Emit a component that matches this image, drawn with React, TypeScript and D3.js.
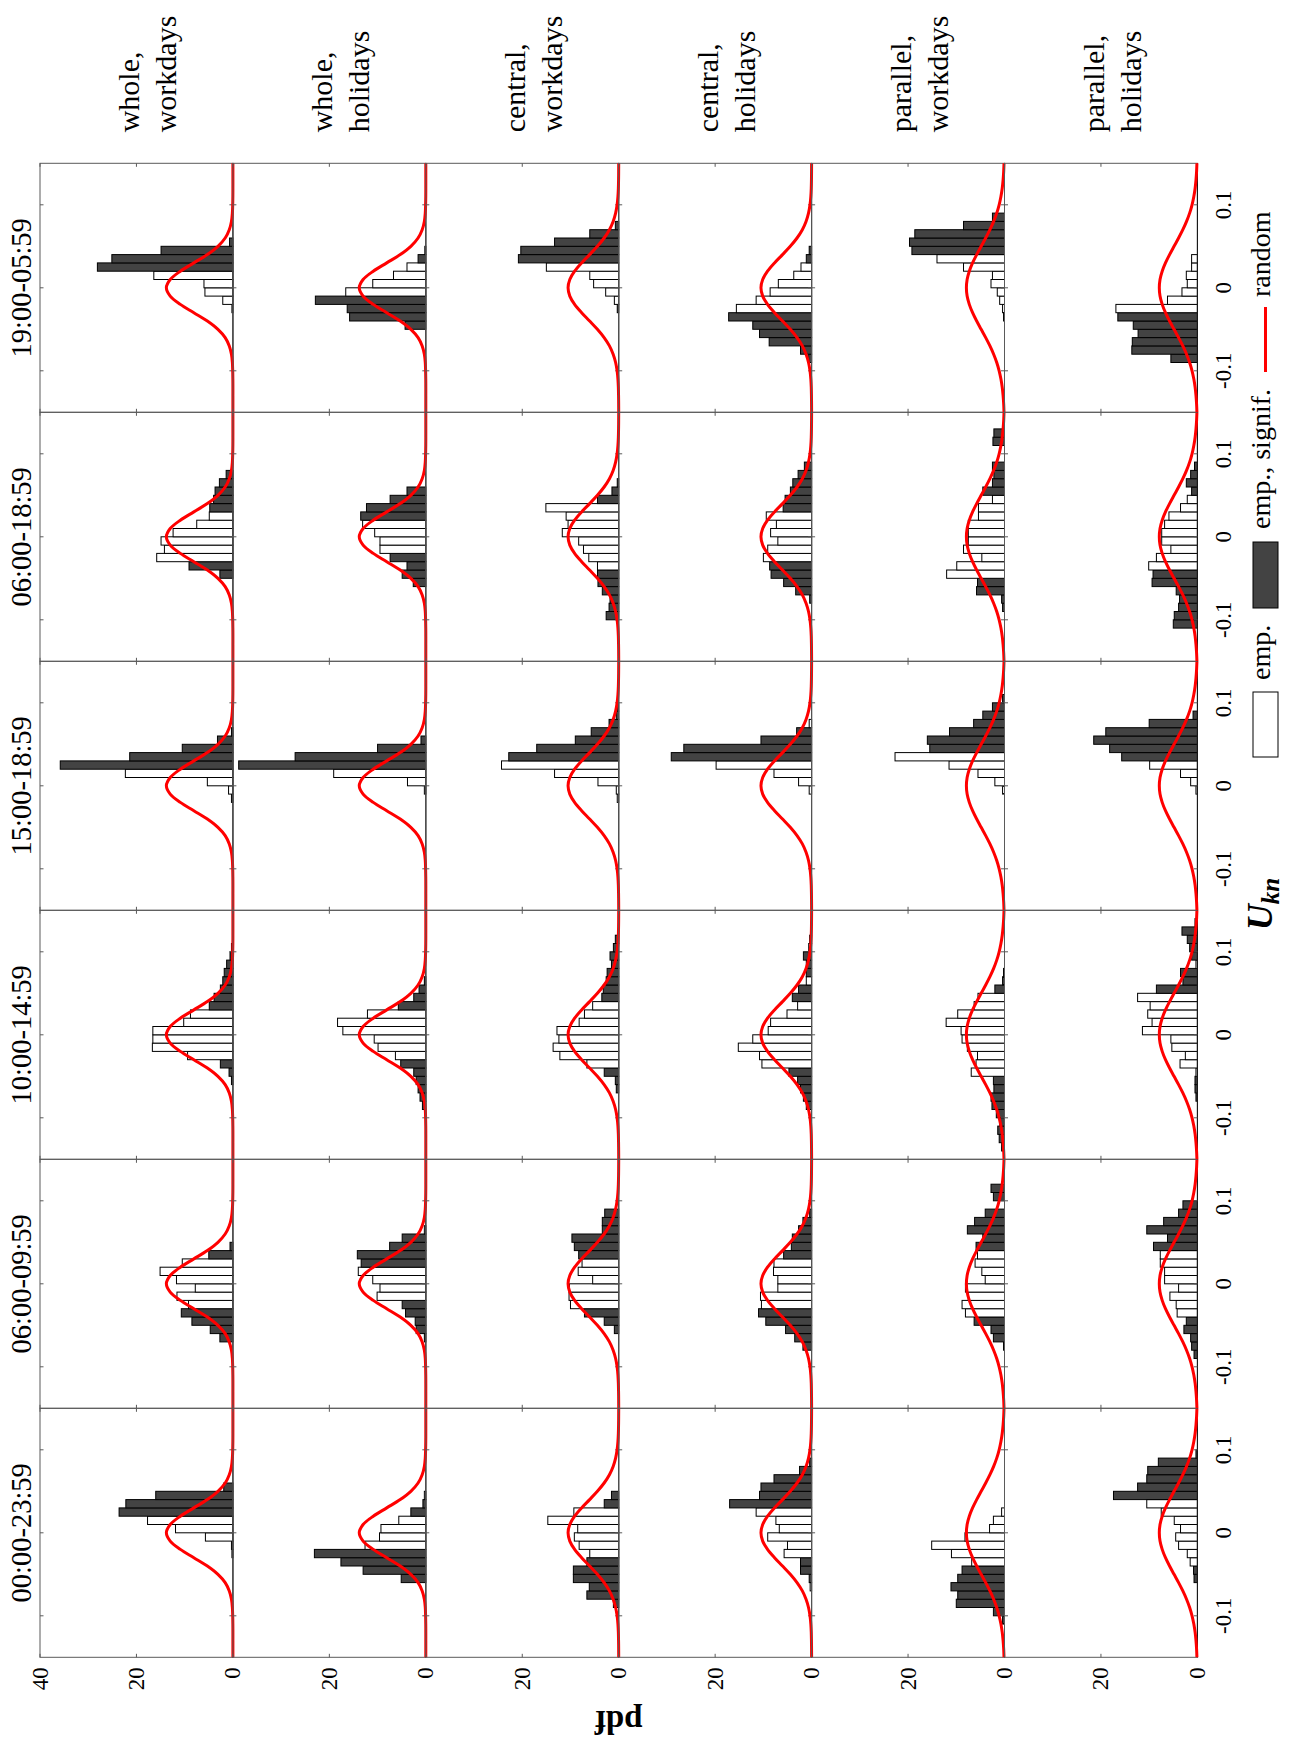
import React from "react";
import * as d3 from "d3";

// ---------- labels ----------
const timeWindows = ["00:00-23:59", "06:00-09:59", "10:00-14:59", "15:00-18:59", "06:00-18:59", "19:00-05:59"];
const groupLines = [
  ["whole,", "workdays"],
  ["whole,", "holidays"],
  ["central,", "workdays"],
  ["central,", "holidays"],
  ["parallel,", "workdays"],
  ["parallel,", "holidays"],
];
const uDomain = [-0.15, 0.15];
const pdfDomain = [0, 40];
const uTicks = [-0.1, 0, 0.1];
const uTickLabels = ["-0.1", "0", "0.1"];
const pdfTicks = [0, 20, 40];
const binWidth = 0.01;
const legendLabels = ["emp.", "emp., signif.", "random"];

// ---------- random-matrix reference curve ----------
const curveU = [-0.15, -0.14, -0.13, -0.12, -0.11, -0.1, -0.09, -0.08, -0.07, -0.06, -0.05, -0.04, -0.03, -0.02, -0.01, 0,
  0.01, 0.02, 0.03, 0.04, 0.05, 0.06, 0.07, 0.08, 0.09, 0.1, 0.11, 0.12, 0.13, 0.14, 0.15];
const curveWhole = [0, 0, 0, 0, 0.01, 0.04, 0.11, 0.3, 0.75, 1.6, 3.1, 5.3, 8.1, 10.9, 13.0, 13.8,
  13.0, 10.9, 8.1, 5.3, 3.1, 1.6, 0.75, 0.3, 0.11, 0.04, 0.01, 0, 0, 0, 0];
const curveCentral = [0, 0.01, 0.03, 0.07, 0.16, 0.33, 0.64, 1.15, 1.92, 3.02, 4.42, 6.03, 7.69, 9.14, 10.14, 10.5,
  10.14, 9.14, 7.69, 6.03, 4.42, 3.02, 1.92, 1.15, 0.64, 0.33, 0.16, 0.07, 0.03, 0.01, 0];
const curveParallel = [0.1, 0.17, 0.29, 0.47, 0.74, 1.11, 1.61, 2.25, 3.02, 3.9, 4.84, 5.77, 6.62, 7.3, 7.75, 7.9,
  7.75, 7.3, 6.62, 5.77, 4.84, 3.9, 3.02, 2.25, 1.61, 1.11, 0.74, 0.47, 0.29, 0.17, 0.1];
const rowCurves = [curveWhole, curveWhole, curveCentral, curveCentral, curveParallel, curveParallel];

// ---------- empirical histograms ----------
// lo = index of first bin (bin k covers [k*0.01,(k+1)*0.01]), v = pdf values, s = 1 significant / 0 not
const hist0000to2359 = [
  { lo: -3, v: [0.2, 0.3, 5.7, 11.9, 17.7, 23.6, 22.2, 16.0, 1.9], s: "100001111" },
  { lo: -6, v: [5.1, 13.0, 17.6, 23.1, 12.6, 9.6, 9.3, 5.6, 3.1, 0.6, 0.3], s: "11110000110" },
  { lo: -9, v: [1.1, 6.6, 6.1, 9.4, 9.4, 6.6, 6.0, 8.2, 9.2, 8.5, 14.7, 9.3, 3.0, 1.5], s: "11111100000011" },
  { lo: -7, v: [0.3, 0.5, 2.3, 2.3, 5.7, 5.0, 9.1, 6.7, 7.4, 11.5, 17.0, 10.8, 10.5, 7.8, 2.5, 0.4], s: "0111000000111111" },
  { lo: -11, v: [0.4, 2.3, 10.0, 9.7, 11.1, 9.7, 8.8, 6.8, 11.0, 15.1, 8.2, 3.1, 2.3, 0.6], s: "11111110000000" },
  { lo: -6, v: [0.7, 0.8, 1.5, 2.1, 3.9, 4.5, 3.5, 4.8, 7.5, 10.5, 17.4, 12.4, 10.5, 10.3, 8.1, 0.3], s: "1100000000111111" },
];
const hist0600to0959 = [
  { lo: -7, v: [2.7, 4.7, 8.5, 10.7, 9.2, 11.6, 7.8, 11.7, 15.1, 10.5, 5.0, 0.6], s: "111100000011" },
  { lo: -7, v: [0.3, 2.0, 2.2, 4.2, 4.9, 10.1, 9.5, 11.0, 14.0, 13.4, 14.2, 7.5, 4.9, 0.3], s: "11111000011110" },
  { lo: -6, v: [0.9, 3.0, 7.1, 10.0, 10.3, 10.2, 5.4, 8.4, 7.6, 8.3, 9.2, 9.7, 3.4, 3.4, 2.9], s: "111000000111111" },
  { lo: -8, v: [1.8, 3.5, 5.4, 9.5, 11.0, 10.4, 10.6, 7.0, 7.0, 7.9, 7.8, 5.8, 4.2, 4.0, 2.7, 1.8, 0.4], s: "11111000000111111" },
  { lo: -8, v: [0.2, 2.3, 2.8, 6.3, 8.1, 8.8, 7.5, 8.1, 4.0, 4.7, 6.1, 5.6, 5.9, 4.5, 7.7, 6.2, 4.0, 0, 2.3, 2.8], s: "11110000000011111011" },
  { lo: -9, v: [0.7, 1.2, 1.4, 2.8, 2.3, 4.2, 4.4, 5.7, 3.9, 6.8, 6.8, 7.7, 7.7, 9.1, 6.2, 10.5, 7.0, 3.9, 3.0], s: "1111100000000111111" },
];
const hist1000to1459 = [
  { lo: -6, v: [0.3, 0.8, 2.6, 9.4, 16.7, 16.6, 16.6, 10.2, 8.8, 4.9, 3.9, 2.6, 2.1, 1.8, 1.3, 0.6, 0.3], s: "11100000011111111" },
  { lo: -9, v: [0.7, 1.2, 1.6, 2.0, 2.5, 5.2, 6.3, 9.9, 10.7, 17.2, 18.3, 12.1, 5.7, 2.5, 1.4, 0.3], s: "1111110000001111" },
  { lo: -7, v: [0.5, 0.7, 3.0, 6.6, 12.2, 13.6, 12.4, 12.8, 8.2, 7.1, 5.4, 3.5, 3.2, 2.6, 2.4, 1.5, 1.8, 1.1, 0.7], s: "1110000000011111111" },
  { lo: -9, v: [1.1, 1.7, 2.3, 2.9, 4.7, 10.3, 10.8, 15.2, 12.2, 9.0, 8.5, 5.1, 2.9, 4.0, 2.7, 1.1, 1.1, 1.1, 1.7, 0.6, 0.4], s: "111110000000011011100" },
  { lo: -14, v: [0.6, 1.1, 1.4, 1.0, 1.7, 2.6, 2.8, 2.2, 2.3, 6.9, 5.9, 5.6, 7.7, 8.8, 9.0, 12.1, 9.7, 6.3, 5.5, 2.0, 0.4, 0.2], s: "1111111110000000000111" },
  { lo: -8, v: [0.3, 0.5, 0.5, 0.3, 3.6, 2.5, 5.3, 5.5, 11.4, 9.4, 10.3, 9.8, 12.4, 8.5, 3.0, 3.5, 0.3, 1.2, 1.6, 2.1, 3.2, 0.5], s: "1110000000000111011111" },
];
const hist1500to1859 = [
  { lo: -2, v: [0.3, 0.9, 5.3, 22.3, 35.8, 21.4, 10.5, 3.2, 0.3], s: "000011111" },
  { lo: -1, v: [0.3, 3.8, 19.1, 38.8, 27.1, 10.0, 1.0], s: "0001111" },
  { lo: -2, v: [0.3, 0.5, 4.3, 13.3, 24.3, 22.8, 17.0, 9.0, 5.7, 2.0, 0.5, 0.3], s: "000001111111" },
  { lo: -1, v: [0.5, 2.7, 7.8, 19.8, 29.1, 26.5, 10.5, 3.1, 0.5], s: "000011110" },
  { lo: -1, v: [0.4, 2.0, 5.5, 11.5, 22.7, 15.5, 16.0, 11.4, 6.4, 4.5, 2.5, 0.4], s: "000001111111" },
  { lo: -1, v: [0.3, 1.4, 3.5, 9.9, 15.7, 18.2, 21.5, 19.0, 10.0, 0.9], s: "0000111111" },
];
const hist0600to1859 = [
  { lo: -5, v: [2.7, 9.1, 15.8, 14.2, 14.9, 12.4, 7.5, 4.9, 4.8, 4.0, 3.7, 2.8, 1.4], s: "1100000011111" },
  { lo: -6, v: [2.6, 4.9, 3.9, 7.4, 9.5, 9.5, 10.6, 13.1, 13.5, 12.3, 7.4, 3.9], s: "111100001111" },
  { lo: -10, v: [2.6, 2.0, 1.8, 3.4, 4.3, 4.4, 4.4, 6.2, 7.3, 8.3, 11.7, 10.5, 10.9, 15.1, 4.4, 1.4, 0.3], s: "11111100000000111" },
  { lo: -8, v: [0.4, 3.3, 5.8, 8.4, 8.7, 10.0, 9.1, 7.0, 8.5, 7.3, 9.4, 5.9, 5.5, 4.4, 3.9, 2.8, 1.5], s: "11111000000111111" },
  { lo: -9, v: [0.4, 0.6, 5.8, 5.6, 12.0, 9.9, 4.7, 8.5, 7.5, 7.5, 7.5, 5.4, 5.4, 2.5, 4.5, 2.5, 2.2, 2.5, 0, 0, 2.4, 2.2], s: "1111000000000011110011" },
  { lo: -11, v: [5.0, 4.8, 3.9, 3.7, 4.4, 9.4, 9.2, 10.1, 8.5, 5.5, 7.4, 7.4, 6.8, 5.9, 3.5, 2.1, 1.2, 2.3, 1.4, 0.6], s: "11111110000000001111" },
];
const hist1900to0559 = [
  { lo: -3, v: [0.2, 2.1, 5.8, 6.0, 16.4, 28.1, 25.1, 14.9, 0.7], s: "100001111" },
  { lo: -5, v: [4.3, 15.8, 16.3, 22.9, 16.6, 11.0, 6.7, 3.9, 1.6, 0.2], s: "1111000011" },
  { lo: -3, v: [0.3, 0.9, 2.7, 5.2, 6.0, 15.0, 20.8, 20.3, 13.3, 6.0, 0.7], s: "10000011111" },
  { lo: -9, v: [0.6, 2.3, 8.8, 10.8, 12.2, 17.2, 15.6, 11.5, 8.6, 6.9, 3.7, 2.2, 1.1, 0.5], s: "11111100000011" },
  { lo: -4, v: [0.2, 0.4, 1.0, 1.5, 2.8, 2.5, 8.5, 14.0, 19.2, 19.7, 18.6, 8.5, 2.5], s: "0000000011111" },
  { lo: -9, v: [5.5, 13.6, 13.5, 12.3, 13.3, 16.5, 16.9, 6.2, 3.2, 2.1, 2.3, 1.2, 1.2], s: "1111110000000" },
];
const histColumns = [hist0000to2359, hist0600to0959, hist1000to1459, hist1500to1859, hist0600to1859, hist1900to0559];

// ---------- styling ----------
const DARK = "#434343";
const FRAME = "#5a5a5a";
const RED = "#ff0000";
const FONT = "'Liberation Serif', 'Times New Roman', serif";

export default function App() {
  const W = 1295;
  const H = 1742;
  // the figure is drawn in its landscape frame (H wide, W tall) and rotated -90deg
  const plotLeft = 84.7;
  const plotTop = 40;
  const colW = 249;
  const rowH = 192.9;

  const panels: any[] = [];
  histColumns.forEach((col, c) => {
    const xs = d3.scaleLinear().domain(uDomain).range([plotLeft + c * colW, plotLeft + (c + 1) * colW]);
    col.forEach((h, r) => {
      const ys = d3.scaleLinear().domain(pdfDomain).range([plotTop + (r + 1) * rowH, plotTop + r * rowH]);
      const line = d3
        .line<number>()
        .x((_, i) => xs(curveU[i]))
        .y((d) => ys(d))
        .curve(d3.curveCatmullRom);
      const x0 = xs(uDomain[0]);
      const x1 = xs(uDomain[1]);
      const y0 = ys(0);
      const y1 = ys(40);
      panels.push(
        <g key={`p${c}-${r}`}>
          {h.v.map((val, i) => {
            if (val <= 0) return null;
            const lo = (h.lo + i) * binWidth;
            const hi = (h.lo + i + 1) * binWidth;
            const sig = h.s[i] === "1";
            return (
              <rect
                key={i}
                x={xs(lo)}
                y={ys(val)}
                width={xs(hi) - xs(lo)}
                height={y0 - ys(val)}
                fill={sig ? DARK : "#ffffff"}
                stroke="#000"
                strokeWidth={1}
              />
            );
          })}
          <rect x={x0} y={y1} width={x1 - x0} height={y0 - y1} fill="none" stroke={FRAME} strokeWidth={1} />
          <line x1={x0} x2={x1} y1={y0} y2={y0} stroke="#111" strokeWidth={1} />
          {uTicks.map((t) => (
            <g key={`xt${t}`}>
              <line x1={xs(t)} x2={xs(t)} y1={y0} y2={y0 - 3.5} stroke={FRAME} />
              <line x1={xs(t)} x2={xs(t)} y1={y1} y2={y1 + 3.5} stroke={FRAME} />
            </g>
          ))}
          {pdfTicks.map((t) => (
            <g key={`yt${t}`}>
              <line x1={x0} x2={x0 + 3.5} y1={ys(t)} y2={ys(t)} stroke={FRAME} />
              <line x1={x1} x2={x1 - 3.5} y1={ys(t)} y2={ys(t)} stroke={FRAME} />
            </g>
          ))}
          <path d={line(rowCurves[r]) || ""} fill="none" stroke={RED} strokeWidth={3} strokeLinejoin="round" />
        </g>
      );
    });
  });

  const xsCol = (c: number) => d3.scaleLinear().domain(uDomain).range([plotLeft + c * colW, plotLeft + (c + 1) * colW]);
  const ysRow = (r: number) => d3.scaleLinear().domain(pdfDomain).range([plotTop + (r + 1) * rowH, plotTop + r * rowH]);
  const plotBottom = plotTop + 6 * rowH;
  const plotRight = plotLeft + 6 * colW;

  return (
    <svg
      width={W}
      height={H}
      style={{ position: "absolute", left: 0, top: 0, background: "#fff" }}
      fontFamily={FONT}
    >
      <rect x={0} y={0} width={W} height={H} fill="#fff" />
      <g transform={`translate(0,${H}) rotate(-90)`}>
        {panels}

        {/* time-window titles */}
        {timeWindows.map((t, c) => (
          <text key={t} x={plotLeft + (c + 0.5) * colW} y={31} textAnchor="middle" fontSize={28.5} fill="#000">
            {t}
          </text>
        ))}

        {/* group labels on the right */}
        {groupLines.map((g, r) => {
          const cy = plotTop + (r + 0.5) * rowH;
          return (
            <text key={r} x={plotRight + 31} y={cy + 3} fontSize={30} fill="#000">
              <tspan x={plotRight + 31} y={cy + 3}>{g[0]}</tspan>
              <tspan x={plotRight + 31} y={cy + 40}>{g[1]}</tspan>
            </text>
          );
        })}

        {/* U tick labels */}
        {timeWindows.map((_, c) =>
          uTicks.map((t, i) => (
            <text key={`ul${c}-${i}`} x={xsCol(c)(t)} y={plotBottom + 33.5} textAnchor="middle" fontSize={23} fill="#000">
              {uTickLabels[i]}
            </text>
          ))
        )}

        {/* pdf tick labels */}
        {groupLines.map((_, r) =>
          pdfTicks
            .filter((t) => r === 0 || t < 40)
            .map((t) => (
              <text
                key={`pl${r}-${t}`}
                x={plotLeft - 10}
                y={ysRow(r)(t)}
                textAnchor="end"
                dominantBaseline="central"
                fontSize={23}
                fill="#000"
              >
                {t}
              </text>
            ))
        )}

        {/* axis labels */}
        <text
          transform={`translate(31,${(plotTop + plotBottom) / 2}) rotate(-90)`}
          textAnchor="middle"
          fontSize={33}
          fontWeight="bold"
          fill="#000"
        >
          pdf
        </text>
        <text x={838} y={1272} textAnchor="middle" fontWeight="bold" fontStyle="italic" fill="#000">
          <tspan fontSize={36}>U</tspan>
          <tspan fontSize={25} dy={7}>kn</tspan>
        </text>

        {/* legend */}
        <rect x={985} y={1253} width={65} height={25} fill="#fff" stroke="#000" strokeWidth={1} />
        <text x={1062} y={1270} fontSize={28} fill="#000">{legendLabels[0]}</text>
        <rect x={1134} y={1253} width={66} height={25} fill={DARK} stroke="#000" strokeWidth={1} />
        <text x={1213} y={1270} fontSize={28} fill="#000">{legendLabels[1]}</text>
        <line x1={1370} x2={1435} y1={1265.5} y2={1265.5} stroke={RED} strokeWidth={3} />
        <text x={1445} y={1270} fontSize={28} fill="#000">{legendLabels[2]}</text>
      </g>
    </svg>
  );
}
